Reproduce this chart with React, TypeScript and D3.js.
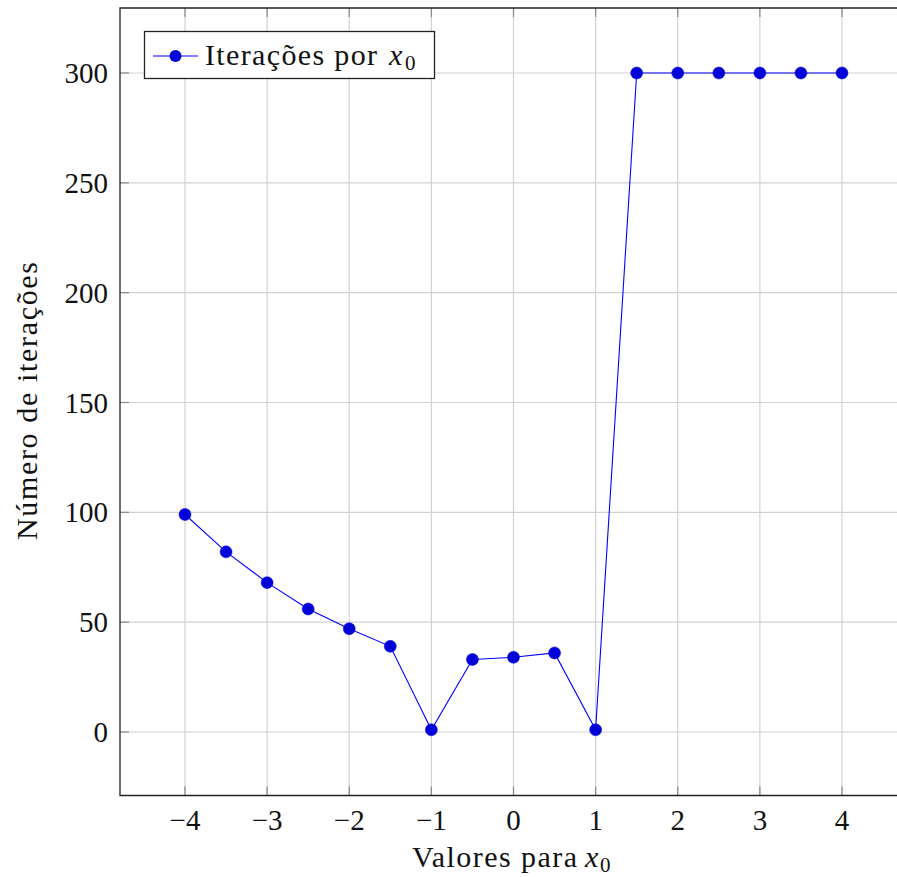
import React from "react";
import * as d3 from "d3";

const xValues = [-4, -3.5, -3, -2.5, -2, -1.5, -1, -0.5, 0, 0.5, 1, 1.5, 2, 2.5, 3, 3.5, 4];
const iterations = [99, 82, 68, 56, 47, 39, 1, 33, 34, 36, 1, 300, 300, 300, 300, 300, 300];
const xTicks = [-4, -3, -2, -1, 0, 1, 2, 3, 4];
const yTicks = [0, 50, 100, 150, 200, 250, 300];

const W = 897;
const H = 877;
const FONT = "'Liberation Serif', 'DejaVu Serif', serif";

export default function App() {
  const left = 120;
  const top = 8;
  const bottom = 795.5;
  const x = d3.scaleLinear().domain([-4, 4]).range([185, 842]);
  const right = x(4.8);
  const y = d3.scaleLinear().domain([0, 300]).range([732, 73]);
  const line = d3
    .line<number>()
    .x((_, i) => x(xValues[i]))
    .y((d) => y(d));
  const fmt = (v: number) => (v < 0 ? "\u2212" + Math.abs(v) : String(v));
  const tickLen = 9;
  const blue = "#0000ff";
  const markFill = "#0000d8";

  return (
    <svg
      width={W}
      height={H}
      style={{ position: "absolute", left: 0, top: 0, background: "#fff" }}
      fontFamily={FONT}
    >
      <defs>
        <clipPath id="plot">
          <rect x={left} y={top} width={right - left} height={bottom - top} />
        </clipPath>
      </defs>
      {xTicks.map((t) => (
        <line key={"gx" + t} x1={x(t)} x2={x(t)} y1={top} y2={bottom} stroke="#d2d2d2" strokeWidth={1.2} />
      ))}
      {yTicks.map((t) => (
        <line key={"gy" + t} x1={left} x2={right} y1={y(t)} y2={y(t)} stroke="#d2d2d2" strokeWidth={1.2} />
      ))}
      {xTicks.map((t) => (
        <g key={"tx" + t}>
          <line x1={x(t)} x2={x(t)} y1={bottom} y2={bottom - tickLen} stroke="#888" strokeWidth={1.2} />
          <line x1={x(t)} x2={x(t)} y1={top} y2={top + tickLen} stroke="#888" strokeWidth={1.2} />
          <text x={x(t)} y={830} textAnchor="middle" fontSize={29} fill="#111">
            {fmt(t)}
          </text>
        </g>
      ))}
      {yTicks.map((t) => (
        <g key={"ty" + t}>
          <line x1={left} x2={left + tickLen} y1={y(t)} y2={y(t)} stroke="#888" strokeWidth={1.2} />
          <text x={108} y={y(t) + 10} textAnchor="end" fontSize={29} fill="#111">
            {fmt(t)}
          </text>
        </g>
      ))}
      <path
        d={`M${right},${top} H${left} V${bottom} H${right}`}
        fill="none"
        stroke="#222"
        strokeWidth={1.3}
      />
      <g clipPath="url(#plot)">
        <path d={line(iterations) || ""} fill="none" stroke={blue} strokeWidth={1.1} />
        {iterations.map((v, i) => (
          <circle key={i} cx={x(xValues[i])} cy={y(v)} r={6} fill={markFill} stroke={markFill} strokeWidth={0.5} />
        ))}
      </g>
      {/* legend */}
      <rect x={144.5} y={31.5} width={290} height={47} fill="#fff" stroke="#222" strokeWidth={1.3} />
      <line x1={153} x2={198} y1={56} y2={56} stroke={blue} strokeWidth={1.1} />
      <circle cx={175.5} cy={56} r={6} fill={markFill} />
      <text x={205} y={65} fontSize={30} fill="#111" textLength={172} lengthAdjust="spacing">
        Iterações por
      </text>
      <text x={389} y={65} fontSize={30} fontStyle="italic" fill="#111">x</text>
      <text x={405} y={70} fontSize={21} fill="#111">0</text>
      {/* axis labels */}
      <text x={412} y={867} fontSize={30} fill="#111" textLength={165} lengthAdjust="spacing">
        Valores para
      </text>
      <text x={585} y={867} fontSize={30} fontStyle="italic" fill="#111">x</text>
      <text x={600} y={872} fontSize={21} fill="#111">0</text>
      <text
        transform={`translate(37,401) rotate(-90)`}
        textAnchor="middle"
        fontSize={30}
        fill="#111"
        textLength={278}
        lengthAdjust="spacing"
      >
        Número de iterações
      </text>
    </svg>
  );
}
